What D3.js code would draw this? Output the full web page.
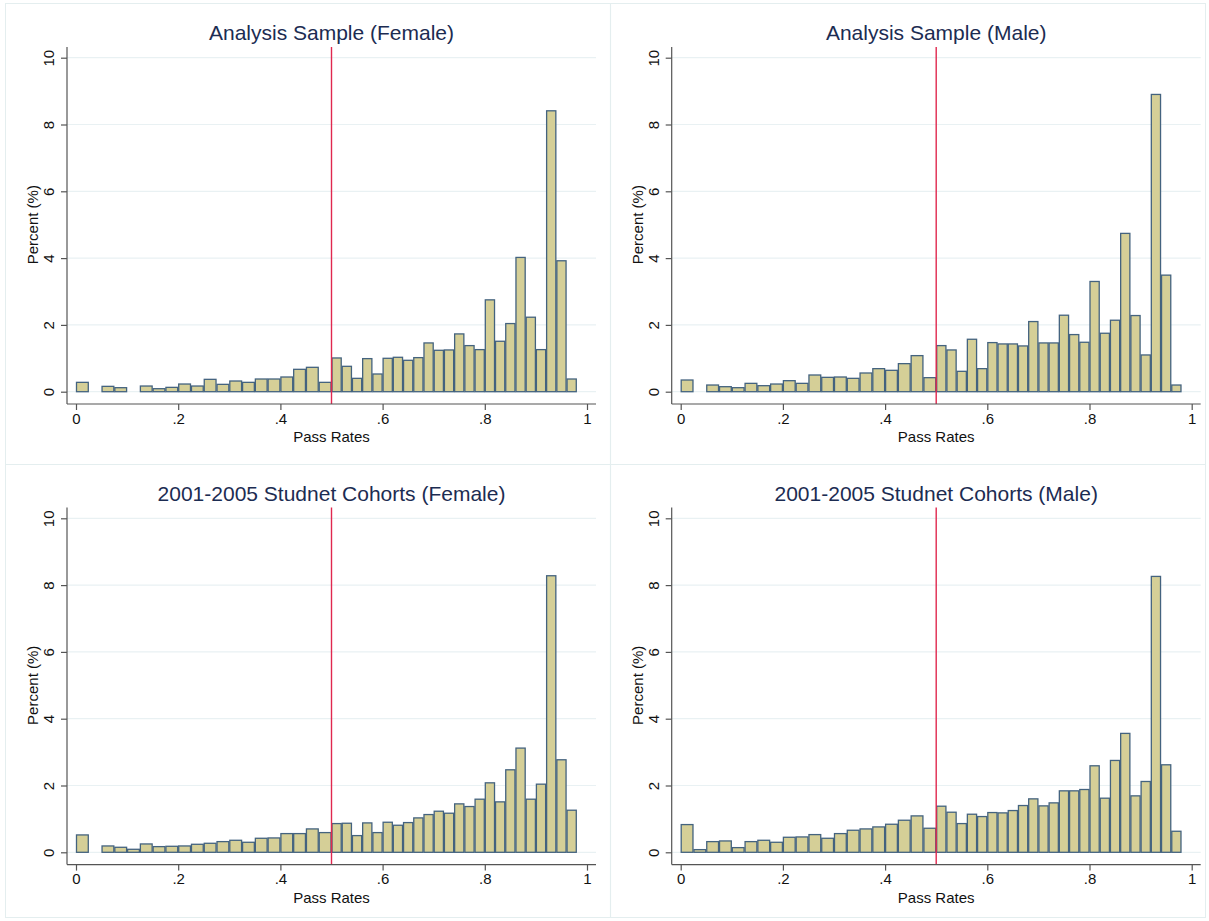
<!DOCTYPE html>
<html><head><meta charset="utf-8">
<script src="https://cdn.jsdelivr.net/npm/d3@7"></script>
<style>
html,body{margin:0;padding:0;background:#fff;}
svg{display:block;font-family:"Liberation Sans",Arial,Helvetica,sans-serif;}
</style></head>
<body><svg id="c" width="1209" height="921"></svg>
<script>
// ---- data ----
const panelTitles = ["Analysis Sample (Female)","Analysis Sample (Male)","2001-2005 Studnet Cohorts (Female)","2001-2005 Studnet Cohorts (Male)"];
// bins below cutoff: width 0.025 from 0 to 0.5 ; above cutoff: width 0.02 from 0.5 to 0.98
const lowBinStart = 0, lowBinWidth = 0.025, lowBinCount = 20;
const highBinStart = 0.5, highBinWidth = 0.02, highBinCount = 24;
const cutoff = 0.5;
const xTickValues = [0,0.2,0.4,0.6,0.8,1];
const xTickLabels = ["0",".2",".4",".6",".8","1"];
const yTickValues = [0,2,4,6,8,10];

const femaleAnalysisLow  = [0.28,0,0.16,0.12,0,0.17,0.09,0.13,0.23,0.17,0.37,0.22,0.32,0.28,0.38,0.38,0.44,0.67,0.73,0.28];
const femaleAnalysisHigh = [1.01,0.76,0.40,0.99,0.53,1.00,1.03,0.94,1.02,1.46,1.24,1.25,1.73,1.38,1.26,2.75,1.51,2.04,4.02,2.23,1.26,8.41,3.92,0.38];
const maleAnalysisLow    = [0.35,0,0.20,0.15,0.12,0.25,0.18,0.23,0.33,0.25,0.50,0.43,0.44,0.40,0.56,0.69,0.64,0.84,1.08,0.42];
const maleAnalysisHigh   = [1.38,1.25,0.61,1.57,0.69,1.47,1.43,1.43,1.37,2.10,1.46,1.46,2.29,1.71,1.48,3.30,1.75,2.14,4.74,2.28,1.10,8.90,3.49,0.20];
const femaleCohortLow    = [0.52,0,0.19,0.15,0.09,0.25,0.17,0.18,0.19,0.24,0.27,0.32,0.36,0.30,0.42,0.43,0.56,0.56,0.70,0.59];
const femaleCohortHigh   = [0.86,0.87,0.50,0.88,0.59,0.90,0.81,0.89,1.03,1.13,1.23,1.17,1.45,1.37,1.59,2.08,1.51,2.47,3.12,1.59,2.04,8.28,2.77,1.26];
const maleCohortLow      = [0.83,0.08,0.32,0.34,0.14,0.32,0.36,0.30,0.45,0.46,0.53,0.42,0.56,0.66,0.70,0.76,0.84,0.96,1.09,0.72];
const maleCohortHigh     = [1.38,1.20,0.86,1.14,1.07,1.19,1.18,1.25,1.40,1.60,1.39,1.48,1.84,1.84,1.88,2.59,1.62,2.75,3.56,1.69,2.12,8.26,2.62,0.63];

const panelLow  = [femaleAnalysisLow, maleAnalysisLow, femaleCohortLow, maleCohortLow];
const panelHigh = [femaleAnalysisHigh, maleAnalysisHigh, femaleCohortHigh, maleCohortHigh];

// ---- layout ----
const svg = d3.select("#c");
const colDx = 604.7, rowDy = 460.6;
const frameColor = "#e4eeef";

// frames
svg.append("rect").attr("x",5.5).attr("y",3.5).attr("width",1200).attr("height",914)
  .attr("fill","none").attr("stroke",frameColor).attr("stroke-width",1);
svg.append("line").attr("x1",610.5).attr("x2",610.5).attr("y1",3.5).attr("y2",917.5)
  .attr("stroke",frameColor).attr("stroke-width",1.2);
svg.append("line").attr("x1",5.5).attr("x2",1205.5).attr("y1",464.5).attr("y2",464.5)
  .attr("stroke",frameColor).attr("stroke-width",1.2);

panelTitles.forEach((title,i)=>{
  const c = i%2, r = Math.floor(i/2);
  const g = svg.append("g").attr("transform",`translate(${c*colDx},${r*rowDy})`);
  const x = d3.scaleLinear().domain([0,1]).range([76,587]);
  const y = d3.scaleLinear().domain([0,10]).range([391.7,57.7]);
  const axL = 67, axR = 596, axTop = 47, axBot = 404;

  // gridlines
  g.append("g").selectAll("line").data(yTickValues).join("line")
    .attr("x1",axL).attr("x2",axR).attr("y1",d=>y(d)).attr("y2",d=>y(d))
    .attr("stroke","#e9f1f3").attr("stroke-width",1.2);

  // bars
  const bins = [];
  panelLow[i].forEach((v,k)=>bins.push({x0:lowBinStart+k*lowBinWidth, x1:lowBinStart+(k+1)*lowBinWidth, v}));
  panelHigh[i].forEach((v,k)=>bins.push({x0:highBinStart+k*highBinWidth, x1:highBinStart+(k+1)*highBinWidth, v}));
  g.append("g").selectAll("rect").data(bins.filter(b=>b.v>0)).join("rect")
    .attr("x",b=>x(b.x0)+0.5).attr("width",b=>x(b.x1)-x(b.x0)-1)
    .attr("y",b=>y(b.v)).attr("height",b=>y(0)-y(b.v))
    .attr("fill","#d5cf97").attr("stroke","#44637f").attr("stroke-width",1.3);

  // cutoff line
  g.append("line").attr("x1",x(cutoff)).attr("x2",x(cutoff)).attr("y1",axTop).attr("y2",axBot)
    .attr("stroke","#e0284f").attr("stroke-width",1.4);

  // x axis
  const xa = g.append("g").attr("transform",`translate(0,${axBot})`)
    .call(d3.axisBottom(x).tickValues(xTickValues).tickFormat((d,k)=>xTickLabels[k]).tickSizeOuter(0).tickSize(6).tickPadding(3));
  xa.select(".domain").attr("d",`M${axL},0H${axR}`).attr("stroke","#555").attr("stroke-width",1.2);
  xa.selectAll(".tick line").attr("stroke","#555").attr("stroke-width",1.2);
  xa.selectAll(".tick text").attr("font-size",15).attr("fill","#111").attr("font-family","Liberation Sans, Arial, sans-serif");

  // y axis
  const ya = g.append("g").attr("transform",`translate(${axL},0)`)
    .call(d3.axisLeft(y).tickValues(yTickValues).tickSizeOuter(0).tickSize(6));
  ya.select(".domain").attr("d",`M0,${axTop}V${axBot}`).attr("stroke","#555").attr("stroke-width",1.2);
  ya.selectAll(".tick line").attr("stroke","#555").attr("stroke-width",1.2);
  ya.selectAll(".tick text").attr("font-size",15).attr("fill","#111")
    .attr("font-family","Liberation Sans, Arial, sans-serif")
    .attr("x",null).attr("dy",null)
    .attr("text-anchor","middle")
    .attr("transform","translate(-13,0) rotate(-90)");

  // axis titles
  g.append("text").attr("x",(axL+axR)/2).attr("y",442).attr("text-anchor","middle")
    .attr("font-size",15).attr("fill","#111").text("Pass Rates");
  g.append("text").attr("transform",`translate(38,${(y(0)+y(10))/2}) rotate(-90)`)
    .attr("text-anchor","middle").attr("font-size",15).attr("fill","#111").text("Percent (%)");

  // title
  g.append("text").attr("x",(axL+axR)/2).attr("y",40).attr("text-anchor","middle")
    .attr("font-size",21).attr("fill","#1c2c52").text(title);
});
</script></body></html>
